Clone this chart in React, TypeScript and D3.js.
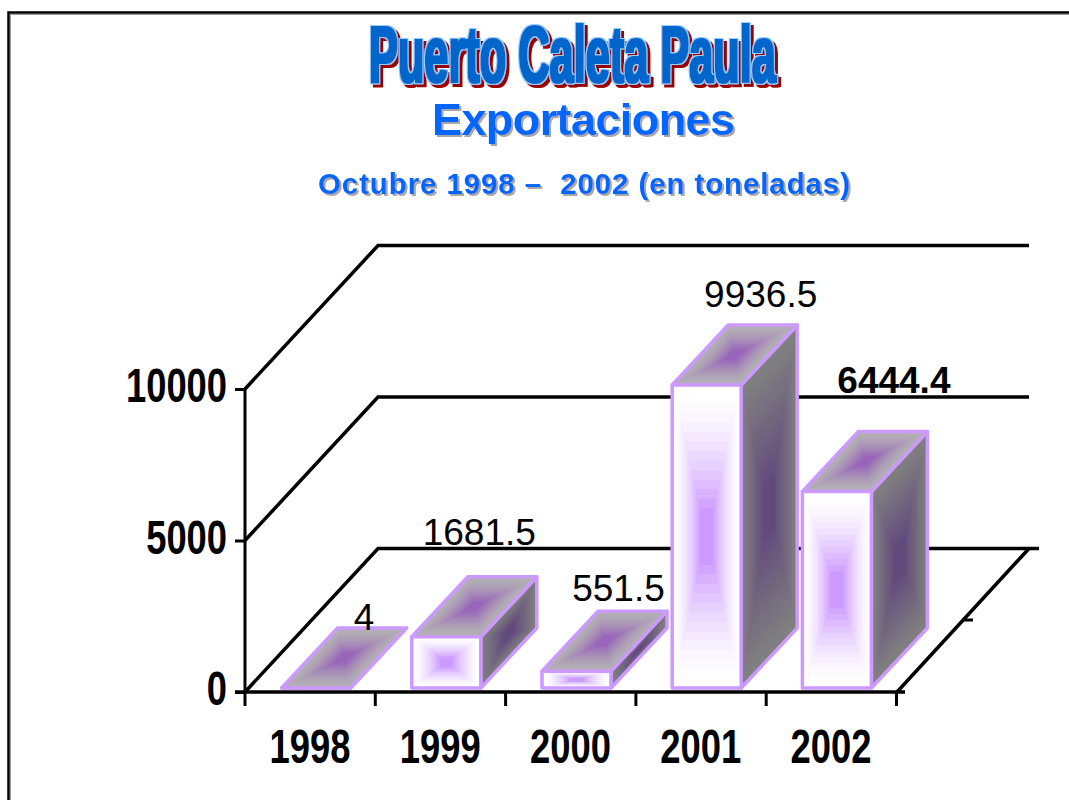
import React, { useEffect, useRef } from "react";
import * as d3 from "d3";

const years = ["1998", "1999", "2000", "2001", "2002"];
const tons = [4, 1681.5, 551.5, 9936.5, 6444.4];
const tonLabels = ["4", "1681.5", "551.5", "9936.5", "6444.4"];
const yTicks = [0, 5000, 10000];

const FONT = "'Liberation Sans', Arial, sans-serif";

type Pt = [number, number];

export default function App() {
  const svgRef = useRef<SVGSVGElement>(null);

  useEffect(() => {
    const svg = d3.select(svgRef.current);
    svg.selectAll("*").remove();

    // filters stand in for the WordArt outline and the text shadows
    const defs = svg.append("defs");
    const wordArt = defs.append("filter").attr("id", "wordart")
      .attr("x", "-5%").attr("y", "-15%").attr("width", "110%").attr("height", "130%");
    wordArt.append("feMorphology").attr("in", "SourceAlpha").attr("operator", "dilate").attr("radius", 0.8).attr("result", "fat");
    wordArt.append("feMorphology").attr("in", "SourceAlpha").attr("operator", "dilate").attr("radius", 2.2).attr("result", "fatter");
    wordArt.append("feFlood").attr("flood-color", "#0066CC").attr("result", "blue");
    wordArt.append("feComposite").attr("in", "blue").attr("in2", "fat").attr("operator", "in").attr("result", "main");
    wordArt.append("feFlood").attr("flood-color", "#99CCFF").attr("result", "light");
    wordArt.append("feComposite").attr("in", "light").attr("in2", "fatter").attr("operator", "in").attr("result", "outline");
    wordArt.append("feOffset").attr("in", "fatter").attr("dx", 3).attr("dy", 3).attr("result", "moved");
    wordArt.append("feFlood").attr("flood-color", "#990000").attr("result", "red");
    wordArt.append("feComposite").attr("in", "red").attr("in2", "moved").attr("operator", "in").attr("result", "shadow");
    const merge = wordArt.append("feMerge");
    ["shadow", "outline", "main"].forEach((n) => merge.append("feMergeNode").attr("in", n));

    defs.append("filter").attr("id", "softshadow")
      .append("feDropShadow").attr("dx", 2).attr("dy", 2).attr("stdDeviation", 0.6).attr("flood-color", "#A8A8A8");

    // page frame, only top and left
    svg.append("path").attr("d", "M8.5,800V12.5H1069").attr("fill", "none").attr("stroke", "#000").attr("stroke-width", 2.5);
    svg.append("path").attr("d", "M10.5,800V14.5H1069").attr("fill", "none").attr("stroke", "#999").attr("stroke-width", 1);

    // titles
    const mainTitle = svg.append("g").attr("filter", "url(#wordart)").append("text")
      .attr("font-family", FONT).attr("font-weight", "bold").attr("font-size", 80)
      .text("Puerto Caleta Paula");
    const titleLen = (mainTitle.node() as SVGTextElement).getComputedTextLength();
    mainTitle.attr("transform", `translate(369,82) scale(${407 / titleLen},1)`);

    const shadowed = (txt: string, px: number, py: number, size: number, len: number) =>
      svg.append("text").attr("x", px).attr("y", py)
        .attr("textLength", len).attr("lengthAdjust", "spacing")
        .attr("font-family", FONT).attr("font-weight", "bold").attr("font-size", size)
        .attr("fill", "#0066FF").attr("filter", "url(#softshadow)")
        .style("white-space", "pre").text(txt);
    shadowed("Exportaciones", 432, 135, 45, 303);
    shadowed("Octubre 1998 –  2002 (en toneladas)", 318, 194, 29.5, 532);

    // scales
    const x = d3.scaleBand().domain(years).range([245, 896]);
    const tickX = d3.scalePoint().domain(d3.range(years.length + 1).map(String)).range([244.5, 896]);
    const y = d3.scaleLinear().domain([0, 10000]).range([692, 389]);
    const barH = d3.scaleLinear().domain([0, 10000]).range([0, 305]);

    const wallDx = 133;
    const wallDy = -143.5;

    // back wall and floor lines
    const grid = svg.append("g").attr("fill", "none").attr("stroke", "#000").attr("stroke-width", 3.5);
    yTicks.forEach((t) => {
      grid.append("path").attr("d", `M245,${y(t)}L${245 + wallDx},${y(t) + wallDy}H${t === 0 ? 1039 : 1029}`);
    });
    grid.append("path").attr("d", "M897,692L1029,548.5");
    grid.append("path").attr("d", "M962,620H973").attr("stroke-width", 3);

    // axes
    const yAxis = svg.append("g").attr("transform", "translate(245,0)")
      .call(d3.axisLeft(y).tickValues(yTicks).tickSize(10).tickPadding(8).tickSizeOuter(0).tickFormat(d3.format("d")) as any);
    const xTicksG = svg.append("g").attr("transform", "translate(0,692)")
      .call(d3.axisBottom(tickX).tickSize(14).tickSizeOuter(0).tickFormat(() => "") as any);
    const xLabels = svg.append("g").attr("transform", "translate(0,692)")
      .call(d3.axisBottom(x).tickSize(0).tickSizeOuter(0) as any);
    xLabels.select(".domain").remove();

    [yAxis, xTicksG].forEach((g) => g.selectAll("path, line").attr("stroke", "#000").attr("stroke-width", 3));
    xTicksG.select(".domain").attr("d", "M235,0H905").attr("stroke-width", 3.5);
    yAxis.select(".domain").attr("d", `M0,${y(0)}V${y(10000)}`);
    yAxis.selectAll("text")
      .attr("font-family", FONT).attr("font-weight", "bold").attr("font-size", 49).attr("fill", "#000")
      .attr("dy", 12.5)
      .attr("textLength", (d: any) => String(d).length * 20.2)
      .attr("lengthAdjust", "spacingAndGlyphs");
    xLabels.selectAll("text")
      .attr("font-family", FONT).attr("font-weight", "bold").attr("font-size", 49).attr("fill", "#000")
      .attr("y", 71).attr("dy", 0)
      .attr("textLength", 81).attr("lengthAdjust", "spacingAndGlyphs");

    // bars, faces filled with concentric bands
    const polygon = d3.line().curve(d3.curveLinearClosed);
    const bands = 16;
    const face = (g: any, corners: Pt[], outer: string, inner: string, power: number) => {
      const cx = d3.mean(corners, (c) => c[0])!;
      const cy = d3.mean(corners, (c) => c[1])!;
      const col = d3.interpolateRgb(outer, inner);
      d3.range(bands).forEach((i) => {
        const s = 1 - i / bands;
        const pts = corners.map((c) => [cx + (c[0] - cx) * s, cy + (c[1] - cy) * s] as Pt);
        const t = Math.min(1, (i / (bands - 1)) * 1.15);
        g.append("path").attr("d", polygon(pts)).attr("fill", col(Math.pow(t, power)));
      });
      g.append("path").attr("d", polygon(corners)).attr("fill", "none")
        .attr("stroke", "#CC99FF").attr("stroke-width", 3.5).attr("stroke-linejoin", "round");
    };

    const barWidth = 69;
    const depthX = 56;
    const depthY = -60;
    const floorY = 688;

    const barsG = svg.append("g");
    years.forEach((yr, i) => {
      const x0 = x(yr)! + (x.bandwidth() - barWidth) / 2 + 6;
      const x1 = x0 + barWidth;
      const top = floorY - barH(tons[i]);
      const g = barsG.append("g");
      face(g, [[x1, floorY], [x1 + depthX, floorY + depthY], [x1 + depthX, top + depthY], [x1, top]], "#808080", "#624A7C", 1.1);
      face(g, [[x0, top], [x1, top], [x1 + depthX, top + depthY], [x0 + depthX, top + depthY]], "#B4B0B4", "#9966BB", 1.5);
      face(g, [[x0, top], [x1, top], [x1, floorY], [x0, floorY]], "#FFFFFF", "#CC99FF", 1.6);
    });

    // value labels were placed by hand in the original
    const labelNudge: Pt[] = [[48, 2], [33, -32], [42, -10], [54, -18], [57, -38]];
    years.forEach((yr, i) => {
      const cx = x(yr)! + x.bandwidth() / 2 + 6;
      const top = floorY - barH(tons[i]) + depthY;
      svg.append("text")
        .attr("x", cx + labelNudge[i][0]).attr("y", top + labelNudge[i][1])
        .attr("text-anchor", "middle").attr("font-family", FONT).attr("font-size", 37)
        .attr("font-weight", i === 4 ? "bold" : "normal").attr("fill", "#000")
        .text(tonLabels[i]);
    });
  }, []);

  return (
    <svg
      ref={svgRef}
      width={1069}
      height={800}
      style={{ position: "absolute", left: 0, top: 0, background: "#fff" }}
    />
  );
}
